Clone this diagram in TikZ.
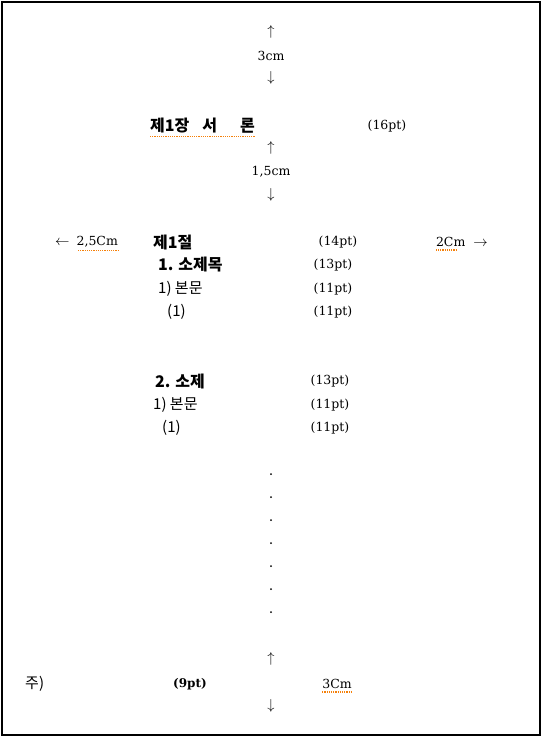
\documentclass[tikz,border=0pt]{standalone}
\usepackage{fontspec}
\setmainfont{DejaVu Serif}
\newfontfamily\kr{Noto Sans CJK KR}
\usetikzlibrary{calc}

\begin{document}
\begin{tikzpicture}[x=1pt,y=-1pt] %% page layout
	\tikzstyle{arrowmark}=[inner sep=0pt,font=\fontsize{14}{16}\selectfont];
	\tikzstyle{size}=[inner sep=0pt,font=\fontsize{12.5}{14}\selectfont];
	\tikzstyle{head}=[inner sep=0pt,anchor=west,font=\kr\bfseries\fontsize{16}{18}\selectfont];
	\tikzstyle{body}=[inner sep=0pt,anchor=west,font=\kr\fontsize{15}{17}\selectfont];
	\tikzstyle{spell}=[draw=orange!85!brown,densely dotted,line width=1.2pt];
	\useasboundingbox (0,0) rectangle (543,739);
	\draw[line width=2pt] (2,2) rectangle (540,735);
	% top margin
	\node[arrowmark] (up1) at (271,32) {$\uparrow$};
	\node[size] (top) at (271,56) {3cm};
	\node[arrowmark] (dn1) at (271,78) {$\downarrow$};
	% chapter
	\node[head] (chap) at (150,126) {제1장\hspace{13pt}서\hspace{23pt}론};
	\node[size] (chapsz) at (387,126) {(16pt)};
	\node[arrowmark] (up2) at (271,148) {$\uparrow$};
	\node[size] (gap) at (271,172) {1,5cm};
	\node[arrowmark] (dn2) at (271,195) {$\downarrow$};
	% side margins
	\node[size,anchor=west] (left) at (55,242) {{\fontsize{14}{16}\selectfont$\leftarrow$}\hspace{7pt}2,5Cm};
	\node[size,anchor=east] (right) at (488,242) {2Cm\hspace{8pt}{\fontsize{14}{16}\selectfont$\rightarrow$}};
	% section
	\node[head] (sec) at (153,242) {제1절};
	\node[size] (secsz) at (338,242) {(14pt)};
	\node[head] (sub1) at (158,265) {1. 소제목};
	\node[size] (sub1sz) at (333,265) {(13pt)};
	\node[body] (txt1) at (158,289) {1) 본문};
	\node[size] (txt1sz) at (333,289) {(11pt)};
	\node[body] (itm1) at (167,312) {(1)};
	\node[size] (itm1sz) at (333,312) {(11pt)};
	\node[head] (sub2) at (155,381) {2. 소제};
	\node[size] (sub2sz) at (330,381) {(13pt)};
	\node[body] (txt2) at (153,405) {1) 본문};
	\node[size] (txt2sz) at (330,405) {(11pt)};
	\node[body] (itm2) at (162,428) {(1)};
	\node[size] (itm2sz) at (330,428) {(11pt)};
	% continuation dots
	\foreach \i in {0,...,6}
		\fill (271,474+23*\i) circle (1pt);
	% foot note
	\node[arrowmark] (up3) at (271,659) {$\uparrow$};
	\node[body] (note) at (25,684) {주)};
	\node[size,font=\bfseries\fontsize{12}{14}\selectfont] (notesz) at (190,684) {(9pt)};
	\node[size] (bot) at (337,684) {3Cm};
	\node[arrowmark] (dn3) at (271,706) {$\downarrow$};
	% spell check marks
	\draw[spell] ($(chap.south west)+(0,3)$) -- ($(chap.south east)+(0,3)$);
	\draw[spell] ($(left.south east)+(-40,3)$) -- ($(left.south east)+(0,3)$);
	\draw[spell] ($(right.south west)+(0,3)$) -- ($(right.south west)+(20,3)$);
	\draw[spell] ($(bot.south west)+(0,3)$) -- ($(bot.south east)+(0,3)$);
\end{tikzpicture}
\end{document}
